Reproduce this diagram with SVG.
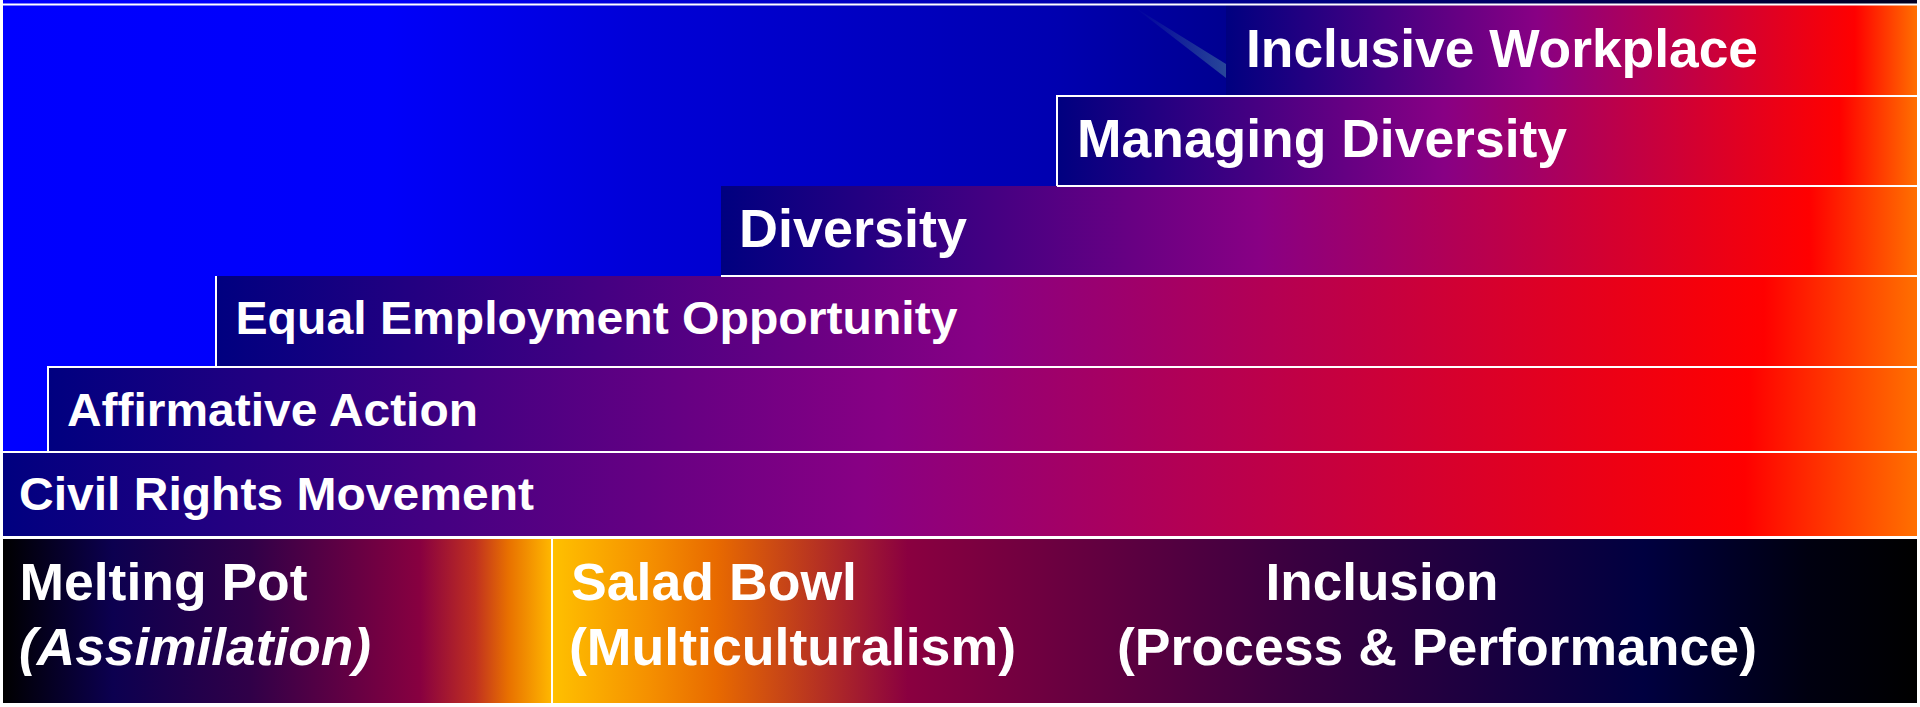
<svg xmlns="http://www.w3.org/2000/svg" width="1920" height="707" viewBox="0 0 1920 707">
  <style>
    .lbl { font-family: "Liberation Sans", Arial, sans-serif; font-weight: bold; fill: #ffffff; }
    .big { font-size: 54px; }
    .mid { font-size: 47px; }
    .low { font-size: 51px; }
    .edge { stroke: #ffffff; stroke-width: 2; fill: none; }
  </style>
  <defs>
    <!-- sky behind the staircase -->
    <linearGradient id="sky" x1="0" y1="0" x2="1" y2="0">
      <stop offset="0" stop-color="#0000ff"/>
      <stop offset="0.2" stop-color="#0000fa"/>
      <stop offset="0.33" stop-color="#0000d8"/>
      <stop offset="0.55" stop-color="#0000b0"/>
      <stop offset="0.64" stop-color="#000090"/>
      <stop offset="1" stop-color="#000020"/>
    </linearGradient>
    <!-- each step fades navy to purple to red to orange -->
    <linearGradient id="step" x1="0" y1="0" x2="1" y2="0">
      <stop offset="0" stop-color="#000080"/>
      <stop offset="0.45" stop-color="#880084"/>
      <stop offset="0.91" stop-color="#ff0000"/>
      <stop offset="1" stop-color="#ff7000"/>
    </linearGradient>
    <linearGradient id="potGrad" x1="0" y1="0" x2="1" y2="0">
      <stop offset="0" stop-color="#000000"/>
      <stop offset="0.2" stop-color="#0c0050"/>
      <stop offset="0.45" stop-color="#300048"/>
      <stop offset="0.76" stop-color="#880040"/>
      <stop offset="0.86" stop-color="#c03020"/>
      <stop offset="0.92" stop-color="#e87000"/>
      <stop offset="1" stop-color="#ffb800"/>
    </linearGradient>
    <linearGradient id="bowlGrad" x1="0" y1="0" x2="1" y2="0">
      <stop offset="0" stop-color="#ffc000"/>
      <stop offset="0.07" stop-color="#f59000"/>
      <stop offset="0.12" stop-color="#e86a00"/>
      <stop offset="0.26" stop-color="#8a0040"/>
      <stop offset="0.55" stop-color="#380040"/>
      <stop offset="0.8" stop-color="#000040"/>
      <stop offset="0.92" stop-color="#000010"/>
      <stop offset="1" stop-color="#000000"/>
    </linearGradient>
    <linearGradient id="glint" x1="0" y1="0" x2="1" y2="0">
      <stop offset="0" stop-color="#2a4a9a" stop-opacity="0"/>
      <stop offset="1" stop-color="#2a4a9a" stop-opacity="0.95"/>
    </linearGradient>
  </defs>

  <rect x="0" y="0" width="1920" height="707" fill="#ffffff"/>
  <rect x="3" y="0" width="1914" height="452" fill="url(#sky)"/>
  <polygon points="1134,7 1226,64 1226,78" fill="url(#glint)"/>

  <g id="inclusive-workplace">
    <rect x="1226" y="5" width="691" height="91" fill="url(#step)"/>
    <text class="lbl big" x="1246" y="67" textLength="512" lengthAdjust="spacingAndGlyphs">Inclusive Workplace</text>
  </g>
  <g id="managing-diversity">
    <rect x="1057" y="96" width="860" height="90" fill="url(#step)"/>
    <text class="lbl big" x="1077" y="157" textLength="490" lengthAdjust="spacingAndGlyphs">Managing Diversity</text>
  </g>
  <g id="diversity">
    <rect x="721" y="186" width="1196" height="90" fill="url(#step)"/>
    <text class="lbl big" x="739" y="247" textLength="228" lengthAdjust="spacingAndGlyphs">Diversity</text>
  </g>
  <g id="equal-employment-opportunity">
    <rect x="216" y="276" width="1701" height="91" fill="url(#step)"/>
    <text class="lbl mid" x="235.5" y="334" textLength="722" lengthAdjust="spacingAndGlyphs">Equal Employment Opportunity</text>
  </g>
  <g id="affirmative-action">
    <rect x="48" y="367" width="1869" height="85" fill="url(#step)"/>
    <text class="lbl mid" x="67" y="426" textLength="411" lengthAdjust="spacingAndGlyphs">Affirmative Action</text>
  </g>
  <g id="civil-rights-movement">
    <rect x="3" y="452" width="1914" height="85" fill="url(#step)"/>
    <text class="lbl mid" x="19" y="510" textLength="515" lengthAdjust="spacingAndGlyphs">Civil Rights Movement</text>
  </g>

  <g id="melting-pot">
    <rect x="3" y="539" width="549" height="164" fill="url(#potGrad)"/>
    <text class="lbl low" x="19.5" y="600" textLength="288" lengthAdjust="spacingAndGlyphs">Melting Pot</text>
    <text class="lbl low" x="19" y="665" font-style="italic" textLength="352" lengthAdjust="spacingAndGlyphs">(Assimilation)</text>
  </g>
  <g id="salad-bowl-inclusion">
    <rect x="553" y="539" width="1364" height="164" fill="url(#bowlGrad)"/>
    <text class="lbl low" x="571" y="600" textLength="286" lengthAdjust="spacingAndGlyphs">Salad Bowl</text>
    <text class="lbl low" x="569" y="665" textLength="447" lengthAdjust="spacingAndGlyphs">(Multiculturalism)</text>
    <text class="lbl low" x="1265.5" y="600" textLength="233" lengthAdjust="spacingAndGlyphs">Inclusion</text>
    <text class="lbl low" x="1117" y="665" textLength="640" lengthAdjust="spacingAndGlyphs">(Process &amp; Performance)</text>
  </g>

  <!-- white step outlines -->
  <g id="outlines" class="edge">
    <path d="M3 4.5 H1917"/>
    <path d="M1226 96 H1917"/>
    <path d="M1057 186 V96 H1226"/>
    <path d="M1057 186 H1917"/>
    <path d="M721 276 H1917"/>
    <path d="M216 276 V367"/>
    <path d="M48 452 V367 H1917"/>
    <path d="M3 452 H1917"/>
    <path d="M3 537 H1917"/>
    <path d="M552 539 V703"/>
  </g>
</svg>
